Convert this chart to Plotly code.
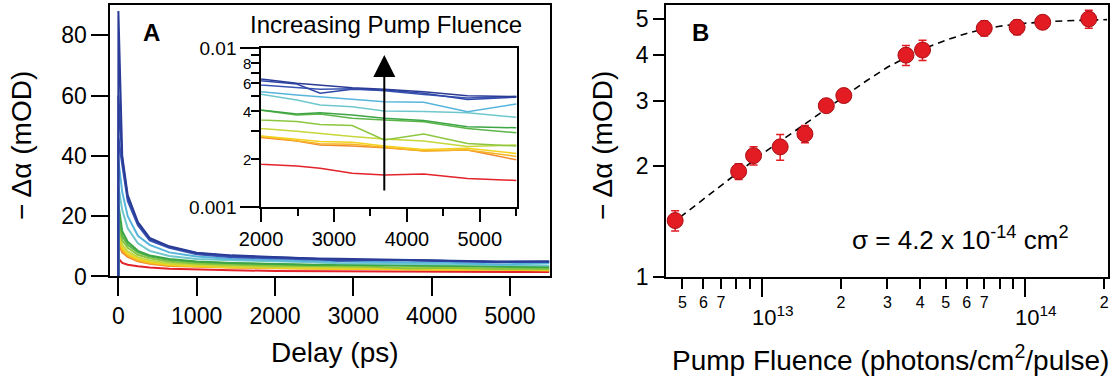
import math
import plotly.graph_objects as go

# ---------------- Panel A data (mOD) ----------------
delay_ps = [0, 1, 50, 120, 250, 400, 650, 1000, 1450, 2000, 2490, 2810, 3250, 3690, 4230, 4830, 5500]

trace_blue1 = [0, 88, 40, 27, 18, 12.8, 10.0, 7.9, 7.0, 6.38, 6.00, 5.85, 5.63, 5.50, 5.30, 5.00, 4.95]
trace_blue2 = [0, 60, 39, 26, 17.5, 12.4, 9.8, 7.7, 6.8, 6.23, 5.94, 5.19, 5.50, 5.44, 5.20, 4.75, 4.90]
trace_blue3 = [0, 46, 37, 25, 17, 12.0, 9.5, 7.4, 6.4, 5.85, 5.60, 5.50, 5.55, 5.39, 5.10, 4.85, 4.95]
trace_sky = [0, 38.5, 28, 20, 13.5, 10.5, 8.0, 6.6, 5.8, 5.31, 5.06, 4.94, 4.75, 4.59, 4.55, 3.98, 4.44]
trace_cyan = [0, 30, 22, 16, 11, 8.5, 6.8, 5.8, 5.4, 5.11, 4.71, 4.38, 4.27, 4.02, 3.98, 3.92, 3.67]
trace_green1 = [0, 24, 15, 11.5, 8.5, 7.0, 5.8, 5.0, 4.5, 4.07, 3.85, 3.92, 3.79, 3.61, 3.50, 3.20, 3.15]
trace_green2 = [0, 21, 13.5, 10.5, 8.0, 6.6, 5.5, 4.8, 4.4, 4.05, 3.79, 3.85, 3.61, 3.53, 3.44, 3.12, 2.93]
trace_lime1 = [0, 19, 12, 9.5, 7.2, 6.0, 4.9, 4.3, 3.9, 3.53, 3.45, 3.30, 3.25, 2.64, 2.88, 2.51, 2.42]
trace_lime2 = [0, 17, 10.5, 8.3, 6.4, 5.3, 4.3, 3.8, 3.4, 3.12, 3.00, 2.90, 2.78, 2.68, 2.60, 2.40, 2.45]
trace_yellow = [0, 15, 9.5, 7.5, 5.8, 4.8, 3.9, 3.4, 3.1, 2.80, 2.67, 2.58, 2.55, 2.42, 2.30, 2.34, 2.17]
trace_amber = [0, 13, 8.8, 7.0, 5.4, 4.5, 3.7, 3.3, 3.0, 2.78, 2.62, 2.50, 2.48, 2.38, 2.25, 2.28, 2.08]
trace_orange = [0, 11, 8.0, 6.5, 5.0, 4.2, 3.5, 3.2, 2.95, 2.74, 2.60, 2.45, 2.42, 2.36, 2.26, 2.28, 1.98]
trace_red = [0, 6, 4.5, 3.9, 3.4, 3.0, 2.6, 2.3, 2.05, 1.86, 1.81, 1.75, 1.63, 1.59, 1.61, 1.51, 1.47]

traces_A = [trace_red, trace_orange, trace_amber, trace_yellow, trace_lime2, trace_lime1,
            trace_green2, trace_green1, trace_cyan, trace_sky, trace_blue3, trace_blue2, trace_blue1]
colors_A = ["#e2232a", "#f08a2c", "#f6b323", "#f2d21e", "#c5d73a", "#8cc63f",
            "#5bb548", "#3da544", "#6fc7cc", "#57b5dc", "#3a56b4", "#3048a8", "#2a3c96"]

# ---------------- Panel B data ----------------
fluence = [4.69e12, 8.17e12, 9.31e12, 1.175e13, 1.459e13, 1.759e13, 2.05e13,
           3.53e13, 4.08e13, 7.0e13, 9.33e13, 1.167e14, 1.746e14]
signal = [1.42, 1.93, 2.13, 2.25, 2.44, 2.91, 3.10, 3.99, 4.12, 4.72, 4.75, 4.90, 5.00]
signal_err = [0.09, 0.095, 0.12, 0.18, 0.13, 0.10, 0.12, 0.25, 0.26, 0.22, 0.22, 0.15, 0.28]

fit_fluence = [4.9e12, 6e12, 8e12, 1e13, 1.3e13, 1.7e13, 2e13, 2.5e13, 3e13, 3.5e13,
               4e13, 5e13, 6e13, 7e13, 8e13, 1e14, 1.3e14, 1.75e14, 2.05e14]
fit_signal = [1.45, 1.62, 1.90, 2.15, 2.45, 2.80, 3.05, 3.40, 3.70, 3.93,
              4.12, 4.38, 4.57, 4.70, 4.78, 4.87, 4.93, 4.97, 4.98]

inset_minor_labels = ["2", "4", "6", "8"]

FONT = "Liberation Sans, Arial, sans-serif"

fig = go.Figure()

for vals, col in zip(traces_A, colors_A):
    fig.add_trace(go.Scatter(x=delay_ps, y=vals, mode="lines", xaxis="x", yaxis="y",
                             line=dict(color=col, width=2), hoverinfo="skip"))

for vals, col in zip(traces_A, colors_A):
    fig.add_trace(go.Scatter(x=delay_ps[1:], y=[v / 1000 for v in vals[1:]], mode="lines",
                             xaxis="x2", yaxis="y2", line=dict(color=col, width=1.5),
                             hoverinfo="skip"))

fig.add_trace(go.Scatter(x=fit_fluence, y=fit_signal, mode="lines", xaxis="x3", yaxis="y3",
                         line=dict(color="black", width=1.6, dash="7px,5px"), hoverinfo="skip"))
fig.add_trace(go.Scatter(x=fluence, y=signal, mode="markers", xaxis="x3", yaxis="y3",
                         marker=dict(size=16, color="#e31b23", line=dict(color="#a81015", width=1)),
                         error_y=dict(type="data", array=signal_err, color="#e31b23",
                                      thickness=1.5, width=4)))

axis_common = dict(showgrid=False, zeroline=False, showline=True, linecolor="black",
                   mirror=True, ticks="outside", tickcolor="black", automargin=False)

fig.update_layout(
    width=1116, height=377, margin=dict(l=0, r=0, t=0, b=0, autoexpand=False),
    paper_bgcolor="white", plot_bgcolor="white", showlegend=False,
    font=dict(family=FONT, color="black"),
    xaxis=dict(domain=[0.0990, 0.4928], anchor="y", range=[-100, 5510],
               tickvals=[0, 1000, 2000, 3000, 4000, 5000], ticklen=18, tickwidth=2,
               linewidth=2, tickfont=dict(size=23), **axis_common),
    yaxis=dict(domain=[0.2666, 0.9867], anchor="x", range=[0, 90],
               tickvals=[0, 20, 40, 60, 80], ticklen=17, tickwidth=2,
               linewidth=2, tickfont=dict(size=23), **axis_common),
    xaxis2=dict(domain=[0.2339, 0.4633], anchor="y2", range=[2000, 5510],
                tickvals=[2000, 3000, 4000, 5000], ticklen=13, tickwidth=1.5,
                linewidth=1.5, tickfont=dict(size=20),
                minor=dict(tickvals=[2500, 3500, 4500, 5500], ticklen=7, tickwidth=1.5,
                           ticks="outside", tickcolor="black"),
                **axis_common),
    yaxis2=dict(domain=[0.4509, 0.8727], anchor="x2", type="log", range=[-3, -2],
                tickvals=[0.001, 0.01], ticktext=["0.001", "0.01"], ticklen=19, tickwidth=1.5,
                linewidth=1.5, tickfont=dict(size=19),
                minor=dict(tickvals=[0.002, 0.003, 0.004, 0.005, 0.006, 0.007, 0.008, 0.009],
                           ticklen=8, tickwidth=1.5, ticks="outside", tickcolor="black"),
                **axis_common),
    xaxis3=dict(domain=[0.5968, 0.9928], anchor="y3", type="log", range=[12.6365, 14.315],
                tickvals=[5e12, 6e12, 7e12, 8e12, 9e12, 2e13, 3e13, 4e13, 5e13, 6e13, 7e13,
                          8e13, 9e13, 2e14],
                ticktext=["5", "6", "7", "", "", "2", "3", "4", "5", "6", "7", "", "", "2"],
                ticklen=10, tickwidth=2, linewidth=2, tickfont=dict(size=16),
                minor=dict(tickvals=[1e13, 1e14], ticklen=18, tickwidth=2,
                           ticks="outside", tickcolor="black"),
                **axis_common),
    yaxis3=dict(domain=[0.2661, 0.9867], anchor="x3", type="log", range=[0, 0.737],
                tickvals=[1, 2, 3, 4, 5], ticktext=["1", "2", "3", "4", "5"],
                ticklen=11, tickwidth=2, linewidth=2, tickfont=dict(size=23),
                **axis_common),
)

ann = []
ann.append(dict(text="− Δα (mOD)", x=0.0197, y=0.6154, xref="paper", yref="paper",
                textangle=-90, showarrow=False, font=dict(size=28), xanchor="center", yanchor="middle"))
ann.append(dict(text="− Δα (mOD)", x=0.5403, y=0.6154, xref="paper", yref="paper",
                textangle=-90, showarrow=False, font=dict(size=28), xanchor="center", yanchor="middle"))
ann.append(dict(text="Delay (ps)", x=0.3002, y=0.0663, xref="paper", yref="paper",
                showarrow=False, font=dict(size=28), xanchor="center", yanchor="middle"))
ann.append(dict(text="Pump Fluence (photons/cm<sup>2</sup>/pulse)", x=0.7975, y=0.0500,
                xref="paper", yref="paper", showarrow=False, font=dict(size=28),
                xanchor="center", yanchor="middle"))
ann.append(dict(text="<b>A</b>", x=0.1362, y=0.9125, xref="paper", yref="paper",
                showarrow=False, font=dict(size=24), xanchor="center", yanchor="middle"))
ann.append(dict(text="<b>B</b>", x=0.6281, y=0.9151, xref="paper", yref="paper",
                showarrow=False, font=dict(size=24), xanchor="center", yanchor="middle"))
ann.append(dict(text="Increasing Pump Fluence", x=386 / 1116, y=1 - 25 / 377, xref="paper",
                yref="paper", showarrow=False, font=dict(size=24), xanchor="center",
                yanchor="middle"))
for v in inset_minor_labels:
    ann.append(dict(text=v, x=-0.03, y=math.log10(int(v) / 1000),
                    xref="x2 domain", yref="y2", showarrow=False, font=dict(size=15),
                    xanchor="right", yanchor="middle"))
for d in [13, 14]:
    ann.append(dict(text="10<sup>%d</sup>" % d, x=d, y=1 - 316 / 377, xref="x3", yref="paper",
                    showarrow=False, font=dict(size=22), xanchor="left", yanchor="middle",
                    xshift=-12))
ann.append(dict(text="σ = 4.2 x 10<sup>-14</sup> cm<sup>2</sup>", x=960 / 1116, y=1 - 238 / 377,
                xref="paper", yref="paper", showarrow=False, font=dict(size=26),
                xanchor="center", yanchor="middle"))
ann.append(dict(text="", x=3690, y=-2.044, ax=3690, ay=-2.906, xref="x2", yref="y2",
                axref="x2", ayref="y2", showarrow=True, arrowhead=2, arrowsize=2.2,
                arrowwidth=2, arrowcolor="black", standoff=0))

fig.update_layout(annotations=ann)
fig.write_html("out.html", config={"displayModeBar": False},
               post_script="document.body.style.margin='0';document.body.style.overflow='hidden';")
